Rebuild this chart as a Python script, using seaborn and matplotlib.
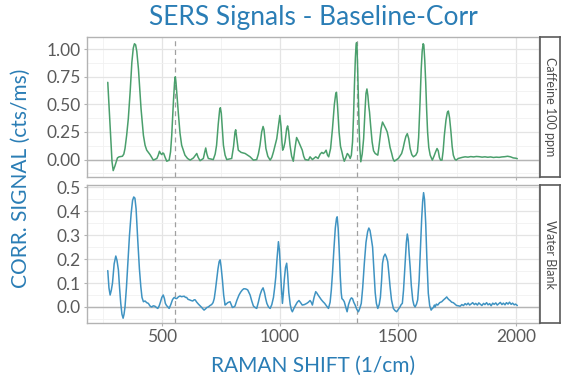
import pandas as pd
import seaborn as sns
import matplotlib.pyplot as plt
from matplotlib.ticker import MultipleLocator, FormatStrFormatter

# Caffeine 100 ppm spectrum
caffeine_shift = [
    270, 280, 288, 293, 300, 311, 318, 332, 338, 343,
    350, 357, 365, 372, 378, 383, 388, 393, 400, 411,
    421, 428, 435, 449, 463, 478, 484, 489, 494, 499,
    503, 507, 513, 520, 530, 536, 541, 548, 553, 556,
    559, 564, 569, 576, 583, 597, 608, 619, 633, 642,
    647, 653, 661, 675, 680, 685, 690, 696, 717, 725,
    731, 738, 744, 747, 751, 756, 760, 767, 774, 795,
    803, 809, 812, 816, 823, 835, 852, 873, 887, 901,
    908, 915, 922, 928, 932, 936, 940, 948, 958, 965,
    972, 986, 993, 999, 1004, 1008, 1011, 1016, 1021, 1028,
    1032, 1036, 1042, 1049, 1056, 1063, 1070, 1077, 1085, 1094,
    1100, 1106, 1120, 1127, 1137, 1151, 1161, 1170, 1177, 1183,
    1189, 1195, 1201, 1206, 1214, 1222, 1230, 1236, 1239, 1243,
    1250, 1256, 1262, 1267, 1272, 1279, 1285, 1291, 1297, 1302,
    1307, 1311, 1315, 1319, 1322, 1324, 1326, 1329, 1332, 1335,
    1338, 1342, 1348, 1354, 1360, 1364, 1368, 1372, 1376, 1379,
    1384, 1390, 1396, 1403, 1414, 1418, 1423, 1428, 1434, 1441,
    1448, 1454, 1459, 1466, 1473, 1478, 1484, 1501, 1515, 1521,
    1527, 1533, 1539, 1545, 1551, 1558, 1565, 1575, 1582, 1587,
    1593, 1598, 1602, 1606, 1609, 1613, 1617, 1621, 1625, 1630,
    1636, 1645, 1652, 1659, 1665, 1670, 1675, 1680, 1686, 1691,
    1696, 1703, 1709, 1713, 1718, 1724, 1729, 1734, 1740, 1746,
    1755, 1763, 1772, 1784, 1796, 1808, 1820, 1832, 1844, 1856,
    1868, 1880, 1892, 1904, 1916, 1928, 1940, 1952, 1964, 1976,
    1988, 2000, 2005,
]
caffeine_signal = [
    0.70, 0.30, -0.02, -0.10, -0.06, 0.015, 0.025, 0.03, 0.05, 0.10,
    0.22, 0.37, 0.62, 0.88, 1.01, 1.05, 1.04, 0.98, 0.82, 0.46,
    0.22, 0.13, 0.085, 0.045, -0.005, 0.01, 0.04, 0.075, 0.055, 0.045,
    0.06, 0.055, 0.02, -0.015, -0.005, 0.07, 0.22, 0.52, 0.70, 0.75,
    0.70, 0.56, 0.42, 0.24, 0.13, 0.04, 0.01, -0.005, 0.015, 0.04,
    0.055, 0.02, -0.01, 0.01, 0.06, 0.105, 0.05, 0.01, 0.0, 0.05,
    0.13, 0.32, 0.45, 0.47, 0.42, 0.25, 0.13, 0.04, 0.0, 0.01,
    0.12, 0.25, 0.27, 0.20, 0.085, 0.065, 0.055, 0.025, -0.005, 0.0,
    0.05, 0.13, 0.25, 0.30, 0.27, 0.18, 0.10, 0.03, -0.005, 0.02,
    0.07, 0.19, 0.30, 0.40, 0.30, 0.16, 0.085, 0.11, 0.16, 0.28,
    0.305, 0.26, 0.13, 0.03, -0.015, 0.10, 0.20, 0.17, 0.13, 0.085,
    0.03, 0.0, -0.005, 0.025, 0.0, 0.025, 0.01, 0.05, 0.065, 0.055,
    0.065, 0.085, 0.04, 0.025, 0.10, 0.28, 0.50, 0.60, 0.61, 0.50,
    0.25, 0.12, 0.07, 0.02, -0.015, 0.02, 0.055, 0.04, 0.01, 0.04,
    0.16, 0.38, 0.67, 0.92, 1.04, 1.06, 1.02, 0.80, 0.52, 0.28,
    0.10, -0.02, 0.05, 0.19, 0.45, 0.60, 0.64, 0.58, 0.48, 0.43,
    0.30, 0.16, 0.08, 0.055, 0.04, 0.10, 0.19, 0.28, 0.34, 0.31,
    0.28, 0.25, 0.20, 0.11, 0.055, 0.01, -0.015, 0.01, 0.055, 0.10,
    0.16, 0.21, 0.235, 0.19, 0.10, 0.045, 0.025, 0.04, 0.07, 0.20,
    0.52, 0.82, 0.98, 1.05, 1.04, 0.90, 0.70, 0.45, 0.25, 0.11,
    0.04, -0.005, 0.03, 0.07, 0.10, 0.08, 0.02, -0.005, -0.005, 0.08,
    0.22, 0.36, 0.43, 0.44, 0.38, 0.25, 0.12, 0.04, 0.005, -0.005,
    0.01, 0.015, 0.02, 0.025, 0.022, 0.027, 0.024, 0.028, 0.026, 0.022,
    0.025, 0.021, 0.024, 0.019, 0.022, 0.02, 0.024, 0.026, 0.03, 0.025,
    0.015, 0.012, 0.008,
]

# Water blank spectrum
water_shift = [
    270, 275, 280, 285, 290, 297, 304, 309, 315, 320,
    325, 330, 335, 339, 343, 349, 355, 362, 369, 375,
    380, 385, 390, 397, 404, 410, 415, 421, 428, 435,
    442, 449, 456, 463, 470, 476, 482, 488, 493, 499,
    505, 510, 514, 519, 525, 530, 537, 544, 548, 552,
    557, 562, 569, 576, 582, 588, 594, 599, 604, 610,
    616, 623, 630, 636, 640, 647, 654, 661, 668, 673,
    678, 684, 690, 696, 703, 710, 716, 721, 726, 731,
    737, 742, 746, 750, 753, 756, 761, 767, 772, 778,
    783, 788, 793, 798, 804, 809, 817, 826, 833, 840,
    846, 852, 858, 863, 868, 873, 880, 887, 894, 901,
    908, 915, 922, 928, 934, 939, 944, 951, 958, 965,
    972, 977, 982, 987, 993, 997, 1000, 1005, 1010, 1014,
    1018, 1023, 1028, 1032, 1037, 1043, 1048, 1052, 1059, 1066,
    1073, 1080, 1087, 1094, 1103, 1113, 1120, 1127, 1132, 1137,
    1144, 1151, 1156, 1161, 1168, 1175, 1182, 1189, 1197, 1205,
    1212, 1217, 1222, 1228, 1234, 1239, 1242, 1246, 1250, 1255,
    1259, 1262, 1267, 1272, 1278, 1284, 1290, 1297, 1302, 1307,
    1312, 1318, 1325, 1332, 1338, 1344, 1350, 1357, 1364, 1371,
    1376, 1381, 1386, 1392, 1397, 1403, 1408, 1414, 1420, 1425,
    1430, 1434, 1439, 1445, 1450, 1456, 1461, 1466, 1472, 1480,
    1487, 1494, 1501, 1508, 1513, 1518, 1523, 1530, 1535, 1539,
    1543, 1547, 1551, 1556, 1562, 1567, 1572, 1578, 1583, 1589,
    1595, 1600, 1604, 1608, 1612, 1617, 1622, 1628, 1634, 1640,
    1645, 1650, 1654, 1657, 1662, 1668, 1676, 1685, 1693, 1700,
    1706, 1711, 1716, 1720, 1727, 1734, 1741, 1748, 1755, 1763,
    1770, 1777, 1784, 1790, 1797, 1803, 1810, 1816, 1823, 1829,
    1836, 1842, 1849, 1855, 1862, 1868, 1875, 1881, 1888, 1894,
    1901, 1907, 1914, 1920, 1927, 1933, 1940, 1946, 1953, 1959,
    1966, 1972, 1979, 1985, 1992, 1998, 2005,
]
water_signal = [
    0.152, 0.08, 0.05, 0.07, 0.10, 0.18, 0.213, 0.195, 0.155, 0.08,
    0.015, -0.03, -0.047, -0.03, 0.0, 0.08, 0.18, 0.30, 0.39, 0.445,
    0.46, 0.455, 0.41, 0.28, 0.16, 0.085, 0.04, 0.022, 0.025, 0.018,
    0.015, 0.004, 0.0, 0.005, 0.003, -0.002, -0.006, 0.005, 0.02, 0.04,
    0.05, 0.035, 0.015, 0.006, 0.0, -0.006, 0.01, 0.03, 0.036, 0.04,
    0.036, 0.035, 0.042, 0.046, 0.043, 0.044, 0.045, 0.04, 0.04, 0.032,
    0.03, 0.027, 0.025, 0.03, 0.03, 0.02, 0.012, 0.005, -0.002, -0.008,
    -0.013, -0.008, -0.002, 0.0, 0.006, 0.01, 0.018, 0.035, 0.07, 0.11,
    0.16, 0.19, 0.197, 0.17, 0.14, 0.11, 0.05, 0.008, 0.012, 0.018,
    0.02, 0.022, 0.01, -0.002, 0.0, 0.004, 0.028, 0.05, 0.062, 0.071,
    0.076, 0.076, 0.074, 0.071, 0.06, 0.05, 0.025, 0.004, -0.002, -0.006,
    0.02, 0.05, 0.07, 0.08, 0.06, 0.035, 0.015, 0.0, -0.006, 0.01,
    0.04, 0.08, 0.127, 0.20, 0.273, 0.24, 0.19, 0.09, 0.015, 0.06,
    0.115, 0.165, 0.183, 0.14, 0.06, 0.01, -0.012, -0.02, -0.005, 0.008,
    0.02, 0.027, 0.018, 0.008, 0.01, 0.015, 0.02, 0.027, 0.02, 0.008,
    0.04, 0.064, 0.058, 0.05, 0.04, 0.03, 0.022, 0.015, 0.004, -0.006,
    0.02, 0.07, 0.14, 0.24, 0.33, 0.37, 0.377, 0.33, 0.25, 0.13,
    0.06, 0.035, 0.03, 0.022, 0.0, -0.02, 0.01, 0.03, 0.038, 0.035,
    0.02, 0.008, -0.01, -0.02, -0.005, 0.015, 0.08, 0.183, 0.27, 0.315,
    0.33, 0.32, 0.29, 0.25, 0.16, 0.06, 0.015, -0.006, 0.01, 0.04,
    0.11, 0.183, 0.21, 0.221, 0.21, 0.19, 0.14, 0.085, 0.03, -0.006,
    -0.015, -0.02, -0.01, 0.0, 0.01, 0.015, 0.07, 0.183, 0.27, 0.305,
    0.28, 0.22, 0.168, 0.09, 0.03, 0.008, 0.0, 0.012, 0.03, 0.11,
    0.252, 0.37, 0.44, 0.478, 0.45, 0.35, 0.20, 0.057, 0.005, -0.013,
    -0.006, -0.002, 0.008, 0.0, 0.012, 0.008, 0.018, 0.022, 0.03, 0.036,
    0.042, 0.035, 0.03, 0.027, 0.02, 0.018, 0.012, 0.006, 0.005, 0.003,
    0.01, 0.006, 0.014, 0.009, 0.016, 0.008, 0.013, 0.018, 0.01, 0.015,
    0.008, 0.017, 0.011, 0.006, 0.015, 0.01, 0.018, 0.009, 0.014, 0.005,
    0.016, 0.011, 0.017, 0.008, 0.014, 0.019, 0.01, 0.016, 0.009, 0.018,
    0.012, 0.02, 0.011, 0.016, 0.009, 0.012, 0.006,
]

samples = ["Caffeine 100 ppm", "Water Blank"]
line_colors = ["#4a9f6c", "#3f93c2"]
marker_shifts = [555, 1325]

df = pd.concat([
    pd.DataFrame({"shift": caffeine_shift, "signal": caffeine_signal, "sample": samples[0]}),
    pd.DataFrame({"shift": water_shift, "signal": water_signal, "sample": samples[1]}),
])

sns.set_theme(style="white")
plt.rcParams["font.family"] = ["Lato", "DejaVu Sans"]

title_blue = "#2a7db5"
tick_grey = "#5a5a5a"

g = sns.FacetGrid(df, row="sample", row_order=samples, sharey=False, sharex=True,
                  height=1.9, aspect=3.0, hue="sample", palette=line_colors)
g.map_dataframe(sns.lineplot, x="shift", y="signal", linewidth=1.1, estimator=None, sort=False)
g.set_titles(template="")
g.set_axis_labels("", "")
fig = g.figure
fig.set_size_inches(5.76, 3.86)

W, H = 576, 386
# panel boxes in pixels: (left, top, right, bottom)
boxes = [(87, 37, 539, 177), (87, 185, 539, 323)]
ylims = [(-0.158, 1.111), (-0.067, 0.51)]
ymajor = [0.25, 0.1]
yfmt = ["%.2f", "%.1f"]

for ax, box, yl, ym, fm, name in zip(g.axes.flat, boxes, ylims, ymajor, yfmt, samples):
    l, t, r, b = box
    ax.set_position([l / W, 1 - b / H, (r - l) / W, (b - t) / H])
    ax.set_xlim(182, 2097)
    ax.set_ylim(*yl)
    ax.xaxis.set_major_locator(MultipleLocator(500))
    ax.xaxis.set_minor_locator(MultipleLocator(250))
    ax.yaxis.set_major_locator(MultipleLocator(ym))
    ax.yaxis.set_minor_locator(MultipleLocator(ym / 2))
    ax.yaxis.set_major_formatter(FormatStrFormatter(fm))
    ax.grid(which="major", color="#e4e4e4", linewidth=0.9)
    ax.grid(which="minor", color="#f1f1f1", linewidth=0.6)
    ax.set_axisbelow(True)
    ax.axhline(0, color="#b5b5b5", linewidth=1.0, zorder=1)
    for xv in marker_shifts:
        ax.axvline(xv, color="#a0a0a0", linewidth=0.9, linestyle=(0, (4, 3)), zorder=1)
    for sp in ax.spines.values():
        sp.set_visible(True)
        sp.set_color("#b3b3b3")
        sp.set_linewidth(1.0)
    ax.tick_params(which="major", length=2.5, width=0.8, color="#b3b3b3",
                   labelsize=12.5, labelcolor=tick_grey, pad=2, bottom=True, left=True)
    ax.tick_params(which="minor", length=0)
    # strip on the right
    sax = fig.add_axes([(r + 1) / W, 1 - b / H, 20 / W, (b - t) / H])
    sax.set_xticks([])
    sax.set_yticks([])
    sax.set_facecolor("white")
    for sp in sax.spines.values():
        sp.set_color("#5a5a5a")
        sp.set_linewidth(1.2)
    sax.text(0.5, 0.5, name, rotation=270, ha="center", va="center",
             fontsize=9, color="#4d4d4d", transform=sax.transAxes)

g.axes.flat[0].tick_params(labelbottom=False)

fig.text(313 / W, 1 - 17 / H, "SERS Signals - Baseline-Corr", ha="center", va="center",
         fontsize=19, color=title_blue)
fig.text(313 / W, 1 - 366 / H, "RAMAN SHIFT (1/cm)", ha="center", va="center",
         fontsize=15, color=title_blue)
fig.text(21 / W, 1 - 178 / H, "CORR. SIGNAL (cts/ms)", ha="center", va="center",
         rotation=90, fontsize=15, color=title_blue)

fig.savefig("out.png", dpi=100)
